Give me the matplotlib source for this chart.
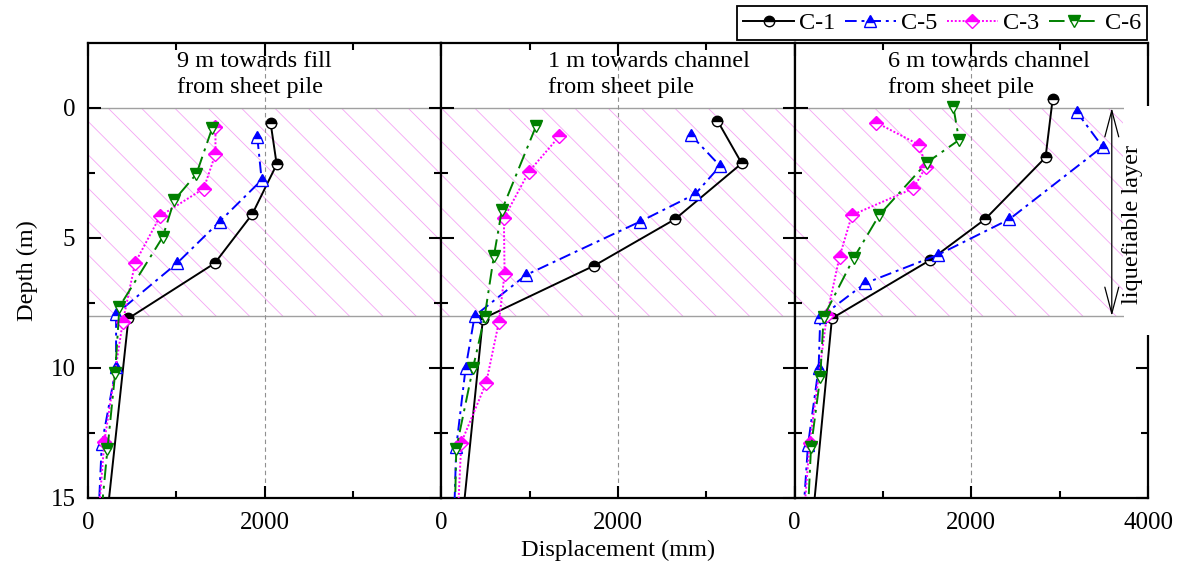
import matplotlib
matplotlib.use("Agg")
import matplotlib.pyplot as plt
from matplotlib.patches import Rectangle

plt.rcParams["font.family"] = ["Liberation Serif", "DejaVu Serif"]
plt.rcParams["font.size"] = 17.5
plt.rcParams["hatch.linewidth"] = 0.6

# --------------------------------------------------------------
# Data: depth (m) vs displacement (mm)
# one list per panel, last point lies below the 15 m limit
# --------------------------------------------------------------
panel_titles = ["9 m towards fill\nfrom sheet pile",
                "1 m towards channel\nfrom sheet pile",
                "6 m towards channel\nfrom sheet pile"]
title_x = [1010, 1210, 1060]

series_names = ["C-1", "C-5", "C-3", "C-6"]

c1_depth = [[0.59, 2.17, 4.08, 5.97, 8.09, 16],
            [0.49, 2.13, 4.28, 6.06, 8.10, 16],
            [-0.33, 1.90, 4.28, 5.85, 8.09, 16]]
c1_disp = [[2068, 2136, 1860, 1435, 458, 207],
           [3126, 3401, 2644, 1733, 471, 234],
           [2920, 2840, 2155, 1533, 422, 198]]

c5_depth = [[1.13, 2.77, 4.37, 5.97, 7.92, 9.97, 12.92, 16],
            [1.04, 2.23, 3.31, 4.37, 6.42, 8.00, 10.0, 13.03, 16],
            [0.14, 1.49, 4.28, 5.65, 6.74, 8.05, 10.0, 12.96, 16]]
c5_disp = [[1917, 1966, 1489, 1008, 318, 318, 156, 114],
           [2825, 3156, 2874, 2249, 960, 377, 275, 169, 142],
           [3191, 3485, 2430, 1620, 799, 290, 271, 151, 90]]

c3_depth = [[0.72, 1.77, 3.10, 4.15, 5.95, 8.22, 12.83, 16],
            [1.08, 2.45, 4.24, 6.38, 8.22, 10.57, 12.87, 16],
            [0.56, 1.42, 2.26, 3.09, 4.12, 5.72, 7.96, 12.90, 16]]
c3_disp = [[1443, 1443, 1310, 818, 534, 394, 185, 113],
           [1337, 991, 708, 716, 652, 508, 226, 182],
           [923, 1412, 1485, 1345, 648, 508, 366, 169, 98]]

c6_depth = [[0.78, 2.54, 3.54, 4.97, 7.64, 10.2, 13.13, 16],
            [0.69, 3.92, 5.69, 8.03, 10.0, 13.1, 16],
            [-0.03, 1.23, 2.10, 4.12, 5.78, 8.03, 10.33, 13.05, 16]]
c6_disp = [[1405, 1227, 977, 845, 356, 307, 220, 139],
           [1073, 686, 595, 490, 358, 169, 151],
           [1797, 1861, 1496, 957, 667, 328, 290, 185, 144]]

depths = [c1_depth, c5_depth, c3_depth, c6_depth]
disps = [c1_disp, c5_disp, c3_disp, c6_disp]

colors = ["black", "#0000ff", "#ff00ff", "#008000"]
markers = ["o", "^", "D", "v"]
sizes = [7.5, 8.5, 7, 8.5]
styles = ["-", (0, (6, 2.5, 1.5, 2.5)), (0, (1, 1)), (0, (8, 3, 1.5, 3))]

fig, axes = plt.subplots(1, 3, figsize=(11.79, 5.72), dpi=100, sharey=True)
fig.subplots_adjust(left=88 / 1179, right=1148 / 1179,
                    bottom=1 - 498 / 572, top=1 - 43 / 572, wspace=0)

hatch_end = [4000, 4000, 3716]
handles = []
for i, ax in enumerate(axes):
    ax.set_xlim(0, 4000)
    ax.set_ylim(15, -2.5)

    # liquefiable layer shading
    ax.fill_betweenx([0, 8], 0, hatch_end[i], facecolor="none",
                     edgecolor="#f4a4f4", hatch="\\", linewidth=0, zorder=0)
    frac = hatch_end[i] / 4000
    ax.axhline(0, xmax=frac, color="#a0a0a0", lw=1, zorder=1)
    ax.axhline(8, xmax=frac, color="#a0a0a0", lw=1, zorder=1)
    ax.axvline(2000, color="#909090", ls=(0, (4, 3)), lw=0.8, zorder=1)

    for k in range(4):
        line, = ax.plot(disps[k][i], depths[k][i], color=colors[k],
                        ls=styles[k], lw=1.4, marker=markers[k],
                        ms=sizes[k], fillstyle="top",
                        markerfacecolor=colors[k],
                        markerfacecoloralt="white",
                        markeredgecolor=colors[k], markeredgewidth=1,
                        label=series_names[k], zorder=3)
        if i == 0:
            handles.append(line)

    ax.text(title_x[i], -1.3, panel_titles[i], ha="left", va="center",
            linespacing=1.3)

    ax.set_xticks([0, 2000, 4000])
    ax.set_xticks([1000, 3000], minor=True)
    if i < 2:
        ax.set_xticklabels(["0", "2000", ""])
    ax.set_yticks([0, 5, 10, 15])
    ax.set_yticks([2.5, 7.5, 12.5], minor=True)
    ax.tick_params(which="both", direction="in", top=True, right=True,
                   width=1.5, labelsize=18)
    ax.tick_params(axis="x", pad=10)
    ax.tick_params(axis="y", pad=9)
    ax.tick_params(which="major", length=9)
    ax.tick_params(which="minor", length=5)
    for sp in ax.spines.values():
        sp.set_linewidth(1.6)

axes[0].set_ylabel("Depth (m)", labelpad=9)
axes[1].set_xlabel("Displacement (mm)", labelpad=4)

# liquefiable layer annotation on the last panel
ax3 = axes[2]
ax3.add_patch(Rectangle((0.931, 0.358), 0.12, 0.504, transform=ax3.transAxes,
                        facecolor="white", edgecolor="none", clip_on=False,
                        zorder=3.5))
ax3.annotate("", xy=(3590, 0), xytext=(3590, 8),
             arrowprops=dict(arrowstyle="<->,head_length=1.9,head_width=0.5",
                             color="black", lw=0.9, shrinkA=0, shrinkB=0,
                             mutation_scale=10), zorder=4)
ax3.text(3830, 4.5, "liquefiable layer", rotation=90, ha="center",
         va="center", zorder=4, clip_on=False)

leg = fig.legend(handles, series_names, loc="upper right",
                 bbox_to_anchor=(1147 / 1179, 1 - 6 / 572), ncol=4,
                 frameon=True, fancybox=False, edgecolor="black",
                 framealpha=1, borderpad=0.25, handlelength=2.1,
                 columnspacing=0.4, handletextpad=0.2, borderaxespad=0)
leg.get_frame().set_linewidth(1.3)

fig.savefig("out.png", dpi=100)
